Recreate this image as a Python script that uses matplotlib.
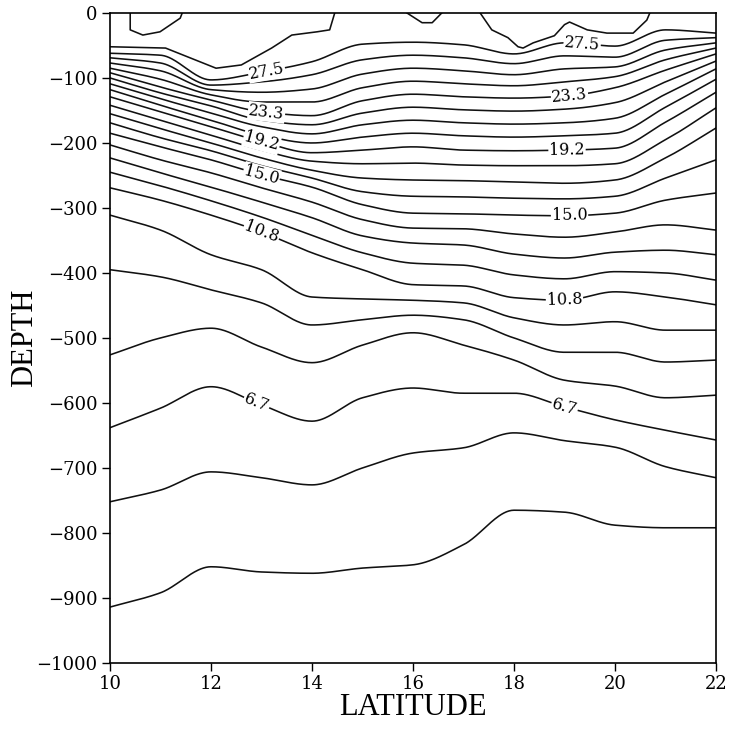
import numpy as np
import matplotlib
matplotlib.use("Agg")
import matplotlib.pyplot as plt

# Latitude stations (deg N) shared by the main isotherms
lat = [10, 11, 12, 13, 14, 15, 16, 17, 18, 19, 20, 21, 22]

# Isotherm depths (m) at each station, warmest to coldest
iso_27_5 = [-62, -65, -103, -91, -75, -48, -45, -49, -63, -46, -51, -26, -31]
iso_26_45 = [-69, -77, -111, -106, -95, -72, -65, -69, -78, -66, -68, -42, -38]
iso_25_4 = [-77, -89, -118, -122, -117, -94, -85, -89, -95, -86, -83, -57, -46]
iso_24_35 = [-85, -102, -126, -137, -137, -115, -105, -109, -112, -106, -98, -72, -54]
iso_23_3 = [-92, -114, -134, -152, -158, -135, -125, -129, -131, -128, -115, -88, -63]
iso_22_25 = [-100, -123, -143, -165, -172, -154, -145, -149, -151, -148, -138, -106, -74]
iso_21_25 = [-109, -132, -154, -175, -186, -172, -165, -169, -171, -169, -162, -125, -86]
iso_20_2 = [-118, -142, -165, -188, -200, -191, -185, -189, -191, -189, -185, -145, -102]
iso_19_2 = [-129, -152, -175, -198, -215, -211, -206, -211, -212, -211, -208, -168, -122]
iso_18_15 = [-142, -165, -188, -211, -228, -232, -231, -234, -235, -235, -232, -195, -146]
iso_17_1 = [-155, -178, -200, -223, -242, -254, -257, -258, -260, -262, -257, -223, -177]
iso_16_05 = [-169, -192, -212, -235, -254, -275, -282, -283, -285, -286, -282, -254, -226]
iso_15_0 = [-185, -206, -226, -249, -268, -295, -308, -309, -311, -312, -308, -288, -277]
iso_13_95 = [-203, -226, -246, -269, -291, -318, -331, -332, -340, -345, -337, -326, -334]
iso_12_9 = [-223, -246, -268, -291, -315, -343, -354, -357, -371, -377, -368, -365, -372]
iso_11_85 = [-245, -266, -289, -314, -342, -369, -385, -388, -403, -409, -398, -400, -411]
iso_10_8 = [-269, -288, -311, -337, -369, -395, -418, -420, -438, -442, -429, -437, -449]
iso_9_8 = [-311, -334, -372, -395, -437, -440, -442, -446, -469, -480, -475, -488, -488]
iso_8_75 = [-395, -406, -426, -446, -480, -472, -465, -472, -500, -522, -522, -537, -534]
iso_7_75 = [-526, -500, -485, -514, -538, -511, -492, -511, -534, -565, -574, -592, -588]
iso_6_7 = [-638, -608, -575, -603, -628, -592, -577, -585, -585, -606, -626, -642, -657]
iso_5_65 = [-752, -734, -706, -715, -726, -700, -677, -669, -646, -658, -668, -698, -715]
iso_4_6 = [-914, -892, -852, -860, -862, -854, -849, -818, -765, -768, -788, -792, -792]

levels = [27.5, 26.45, 25.4, 24.35, 23.3, 22.25, 21.25, 20.2, 19.2, 18.15, 17.1,
          16.05, 15.0, 13.95, 12.9, 11.85, 10.8, 9.8, 8.75, 7.75, 6.7, 5.65, 4.6]
isotherms = [iso_27_5, iso_26_45, iso_25_4, iso_24_35, iso_23_3, iso_22_25, iso_21_25,
             iso_20_2, iso_19_2, iso_18_15, iso_17_1, iso_16_05, iso_15_0, iso_13_95,
             iso_12_9, iso_11_85, iso_10_8, iso_9_8, iso_8_75, iso_7_75, iso_6_7,
             iso_5_65, iso_4_6]

# Warm near-surface isotherms (28.5 and 29.6) that reach the sea surface
warm_28_5_lat = [10, 11.1, 12.1, 12.6, 13.2, 13.6, 14.1, 14.35, 14.45]
warm_28_5_dep = [-52, -54, -85, -80, -54, -34, -29, -26, 0]
pocket_a_lat = [15.88, 16.18, 16.38, 16.57]
pocket_a_dep = [0, -15, -15, 0]
pocket_b_lat = [17.33, 17.56, 17.88, 18.08, 18.18, 18.38, 18.8, 19.0, 19.1, 19.45,
                19.84, 20.36, 20.63, 20.69]
pocket_b_dep = [0, -26, -38, -52, -54, -46, -35, -18, -14, -26, -31, -31, -11, 0]
warm_29_6_lat = [10.4, 10.4, 10.65, 10.99, 11.39, 11.43]
warm_29_6_dep = [0, -26, -34, -29, -8, 0]

# Labelled isotherms and where their labels sit
label_levels = [27.5, 23.3, 19.2, 15.0, 10.8, 6.7]
label_lat_west = [13.1, 13.1, 13.0, 13.0, 13.0, 12.9]
label_lat_east = [19.35, 19.1, 19.05, 19.1, 19.0, 19.0]

lat_ticks = [10, 12, 14, 16, 18, 20, 22]
depth_ticks = [0, -100, -200, -300, -400, -500, -600, -700, -800, -900, -1000]


def pchip_curve(xk, yk, xs):
    """Shape-preserving cubic (PCHIP) through the station values."""
    xk = np.asarray(xk, float)
    yk = np.asarray(yk, float)
    h = np.diff(xk)
    delta = np.diff(yk) / h
    n = len(xk)
    d = np.zeros(n)
    for k in range(1, n - 1):
        if delta[k - 1] * delta[k] > 0:
            w1 = 2 * h[k] + h[k - 1]
            w2 = h[k] + 2 * h[k - 1]
            d[k] = (w1 + w2) / (w1 / delta[k - 1] + w2 / delta[k])
    d[0] = delta[0]
    d[-1] = delta[-1]
    idx = np.clip(np.searchsorted(xk, xs) - 1, 0, n - 2)
    t = (xs - xk[idx]) / h[idx]
    h00 = 2 * t**3 - 3 * t**2 + 1
    h10 = t**3 - 2 * t**2 + t
    h01 = -2 * t**3 + 3 * t**2
    h11 = t**3 - t**2
    return (h00 * yk[idx] + h10 * h[idx] * d[idx]
            + h01 * yk[idx + 1] + h11 * h[idx] * d[idx + 1])


fig = plt.figure(figsize=(7.30, 7.32), dpi=100)
ax = fig.add_axes([0.1507, 0.0943, 0.8301, 0.8880])
ax.set_xlim(10, 22)
ax.set_ylim(-1000, 0)

xs_fine = np.linspace(lat[0], lat[-1], 481)
line_kw = dict(color="#111111", lw=1.15, solid_joinstyle="round")
for dep in isotherms:
    ax.plot(xs_fine, pchip_curve(lat, dep, xs_fine), **line_kw)
for xs, ys in [(warm_28_5_lat, warm_28_5_dep), (pocket_a_lat, pocket_a_dep),
               (pocket_b_lat, pocket_b_dep), (warm_29_6_lat, warm_29_6_dep)]:
    ax.plot(xs, ys, **line_kw)

fig.canvas.draw()


def put_label(level, x):
    dep = isotherms[levels.index(level)]
    xx = np.array([x - 0.2, x, x + 0.2])
    yy = pchip_curve(lat, dep, xx)
    p1 = ax.transData.transform((xx[0], yy[0]))
    p2 = ax.transData.transform((xx[2], yy[2]))
    ang = np.degrees(np.arctan2(p2[1] - p1[1], p2[0] - p1[0]))
    ax.text(x, yy[1], f"{level:.1f}", rotation=ang, rotation_mode="anchor",
            ha="center", va="center", fontsize=11.5, family="DejaVu Serif",
            bbox=dict(facecolor="white", edgecolor="none", pad=0.6), zorder=5)


for lev, xw, xe in zip(label_levels, label_lat_west, label_lat_east):
    put_label(lev, xw)
    put_label(lev, xe)

ax.set_xticks(lat_ticks)
ax.set_yticks(depth_ticks)
ax.set_xticklabels([str(t) for t in lat_ticks], family="DejaVu Serif", fontsize=13)
ax.set_yticklabels(["0" if t == 0 else "\u2212" + str(-t) for t in depth_ticks],
                   family="DejaVu Serif", fontsize=13)
ax.tick_params(direction="out", length=6, width=1.0, pad=3)
for sp in ax.spines.values():
    sp.set_linewidth(1.2)

ax.set_xlabel("LATITUDE", family="Liberation Serif", fontsize=22, labelpad=0)
ax.set_ylabel("DEPTH", family="Liberation Serif", fontsize=22, labelpad=-2)

fig.savefig("out.png", dpi=100)
